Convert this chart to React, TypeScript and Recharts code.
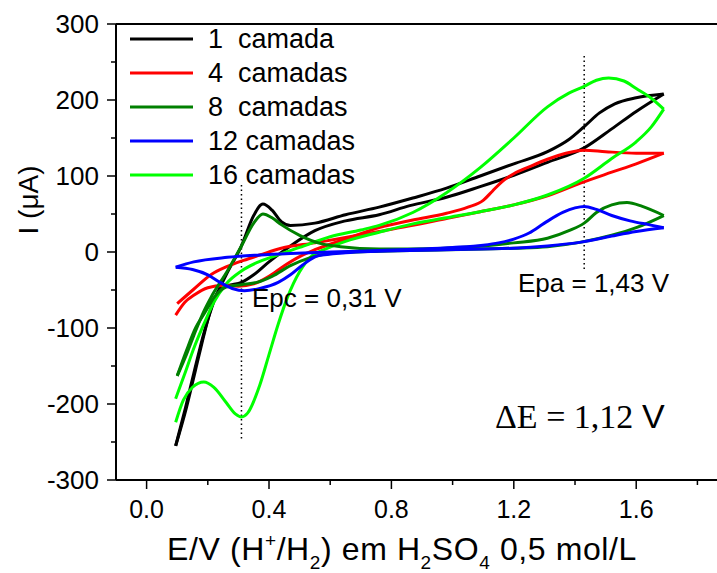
import { LineChart, Line, XAxis, YAxis, ReferenceLine } from "recharts";

// each voltammogram is stored as two branches (anodic = upper, cathodic = lower), E ascending
const c1UpE = [0.095, 0.127, 0.154, 0.187, 0.22, 0.26, 0.31, 0.35, 0.38, 0.41, 0.44, 0.47, 0.55, 0.65, 0.76, 0.87, 0.98, 1.09, 1.2, 1.31, 1.38, 1.43, 1.48, 1.53, 1.6, 1.69];
const c1UpI = [-255, -205, -160, -107, -65, -30, 8, 48, 63, 55, 40, 35, 38, 49, 59, 71, 84, 100, 116, 132, 148, 165, 183, 195, 203, 208];
const c1DownE = [0.095, 0.13, 0.16, 0.19, 0.21, 0.23, 0.26, 0.31, 0.35, 0.4, 0.47, 0.55, 0.65, 0.76, 0.86, 0.98, 1.09, 1.2, 1.31, 1.43, 1.52, 1.6, 1.69];
const c1DownI = [-255, -205, -155, -105, -75, -55, -45, -40, -30, -13, 8, 28, 41, 49, 61, 72, 86, 101, 118, 137, 162, 185, 208];

const c4UpE = [0.095, 0.125, 0.154, 0.2, 0.25, 0.3, 0.35, 0.4, 0.45, 0.5, 0.55, 0.65, 0.76, 0.87, 0.98, 1.05, 1.1, 1.13, 1.16, 1.2, 1.25, 1.31, 1.37, 1.43, 1.5, 1.6, 1.69];
const c4UpI = [-83, -66, -57, -47, -44, -45, -42, -32, -18, -6, 3, 17, 32, 42, 51, 59, 68, 80, 92, 103, 112, 122, 130, 134, 132, 130, 130];
const c4DownE = [0.1, 0.154, 0.21, 0.264, 0.317, 0.37, 0.44, 0.55, 0.65, 0.76, 0.87, 0.98, 1.09, 1.2, 1.31, 1.42, 1.52, 1.6, 1.69];
const c4DownI = [-68, -49, -30, -19, -11, -4, 5, 12, 19, 27, 35, 44, 53, 62, 74, 91, 105, 116, 130];

const c8UpE = [0.1, 0.13, 0.154, 0.187, 0.21, 0.264, 0.31, 0.35, 0.38, 0.41, 0.44, 0.5, 0.57, 0.634, 0.76, 0.86, 0.98, 1.1, 1.2, 1.31, 1.38, 1.43, 1.47, 1.52, 1.57, 1.62, 1.69];
const c8UpI = [-163, -135, -110, -78, -60, -25, 8, 38, 50, 45, 36, 22, 11, 7, 4, 4, 5, 8, 12, 18, 28, 38, 52, 62, 65, 60, 48];
const c8DownE = [0.1, 0.13, 0.16, 0.19, 0.22, 0.26, 0.31, 0.36, 0.41, 0.47, 0.53, 0.6, 0.76, 0.98, 1.2, 1.31, 1.42, 1.52, 1.6, 1.69];
const c8DownI = [-163, -130, -100, -80, -60, -46, -43, -40, -32, -18, -8, -2, 1, 3, 5, 7, 13, 22, 32, 48];

const c12UpE = [0.095, 0.154, 0.264, 0.37, 0.47, 0.6, 0.76, 0.9, 1.0, 1.1, 1.15, 1.2, 1.25, 1.3, 1.36, 1.4, 1.43, 1.47, 1.52, 1.58, 1.64, 1.69];
const c12UpI = [-20, -13, -7, -4, -2, 0, 2, 4, 6, 9, 12, 17, 25, 38, 52, 58, 60, 56, 48, 41, 36, 32];
const c12DownE = [0.095, 0.15, 0.2, 0.24, 0.28, 0.32, 0.37, 0.43, 0.47, 0.51, 0.56, 0.65, 0.76, 0.98, 1.2, 1.31, 1.42, 1.52, 1.6, 1.69];
const c12DownI = [-20, -23, -30, -40, -48, -51, -48, -40, -30, -17, -5, -1, 1, 3, 5, 8, 13, 21, 27, 32];

const c16UpE = [0.095, 0.125, 0.154, 0.187, 0.22, 0.26, 0.31, 0.36, 0.42, 0.5, 0.6, 0.7, 0.76, 0.87, 0.98, 1.09, 1.2, 1.31, 1.38, 1.43, 1.47, 1.51, 1.56, 1.6, 1.65, 1.69];
const c16UpI = [-193, -160, -127, -95, -66, -42, -25, -14, -5, 6, 20, 29, 35, 52, 78, 111, 150, 191, 209, 218, 226, 229, 225, 215, 202, 188];
const c16DownE = [0.095, 0.12, 0.15, 0.187, 0.22, 0.26, 0.29, 0.31, 0.33, 0.37, 0.4, 0.43, 0.46, 0.5, 0.54, 0.58, 0.65, 0.76, 0.87, 0.98, 1.09, 1.2, 1.31, 1.43, 1.52, 1.6, 1.65, 1.69];
const c16DownI = [-224, -195, -178, -171, -178, -198, -213, -217, -212, -175, -135, -95, -60, -26, -5, 3, 14, 26, 37, 45, 53, 62, 75, 97, 123, 145, 165, 188];

const seriesNames = ["1  camada", "4  camadas", "8  camadas", "12 camadas", "16 camadas"];
const seriesColors = ["#000000", "#ff0000", "#008000", "#0000ff", "#00ff00"];

const xTicks = [0, 0.2, 0.4, 0.6, 0.8, 1.0, 1.2, 1.4, 1.6, 1.8];
const yTicks = [-300, -250, -200, -150, -100, -50, 0, 50, 100, 150, 200, 250, 300];

const epc = 0.31;
const epa = 1.43;

const FONT = "'Liberation Sans', Arial, sans-serif";

const zip = (e: number[], i: number[]) => e.map((v, k) => ({ e: v, i: i[k] }));

const curves = [
  { up: zip(c1UpE, c1UpI), down: zip(c1DownE, c1DownI) },
  { up: zip(c4UpE, c4UpI), down: zip(c4DownE, c4DownI) },
  { up: zip(c8UpE, c8UpI), down: zip(c8DownE, c8DownI) },
  { up: zip(c12UpE, c12UpI), down: zip(c12DownE, c12DownI) },
  { up: zip(c16UpE, c16UpI), down: zip(c16DownE, c16DownI) },
];

// drawing order, blue on top
const drawOrder = [0, 1, 4, 2, 3];

function YTick({ x, y, payload }: any) {
  const major = payload.value % 100 === 0;
  return (
    <g>
      <line x1={x - (major ? 9 : 5)} x2={x} y1={y} y2={y} stroke="#000" strokeWidth={1.5} />
      {major && (
        <text x={x - 17} y={y} textAnchor="end" dominantBaseline="central" fontSize={26} fontFamily={FONT} fill="#000">
          {payload.value}
        </text>
      )}
    </g>
  );
}

function XTick({ x, y, payload }: any) {
  const major = Math.round(payload.value * 10) % 4 === 0;
  return (
    <g>
      <line x1={x} x2={x} y1={y} y2={y + (major ? 9 : 5)} stroke="#000" strokeWidth={1.5} />
      {major && (
        <text x={x} y={y + 29} textAnchor="middle" dominantBaseline="central" fontSize={25} fontFamily={FONT} fill="#000">
          {payload.value.toFixed(1)}
        </text>
      )}
    </g>
  );
}

export default function App() {
  return (
    <div style={{ position: "absolute", left: 0, top: 0, width: 717, height: 573, background: "#fff", overflow: "hidden" }}>
      <LineChart width={717} height={573} margin={{ top: 24, right: 0, bottom: 33, left: 0 }}>
        <XAxis
          type="number"
          dataKey="e"
          domain={[-0.1, 1.864]}
          ticks={xTicks}
          allowDataOverflow
          height={60}
          tickSize={0}
          tickMargin={0}
          tickLine={false}
          axisLine={{ stroke: "#000", strokeWidth: 2 }}
          tick={<XTick />}
        />
        <YAxis
          type="number"
          dataKey="i"
          domain={[-300, 300]}
          ticks={yTicks}
          allowDataOverflow
          width={116}
          tickSize={0}
          tickMargin={0}
          tickLine={false}
          axisLine={{ stroke: "#000", strokeWidth: 2 }}
          tick={<YTick />}
        />
        <ReferenceLine y={300} stroke="#000" strokeWidth={2} />
        <ReferenceLine
          segment={[{ x: epc, y: 88 }, { x: epc, y: -247 }]}
          stroke="#000"
          strokeWidth={1.5}
          strokeDasharray="1.5 3"
        />
        <ReferenceLine
          segment={[{ x: epa, y: 258 }, { x: epa, y: -26 }]}
          stroke="#000"
          strokeWidth={1.5}
          strokeDasharray="1.5 3"
        />
        {drawOrder.flatMap((k) => [
          <Line
            key={`up${k}`}
            data={curves[k].up}
            dataKey="i"
            type="monotone"
            stroke={seriesColors[k]}
            strokeWidth={3}
            dot={false}
            activeDot={false}
            isAnimationActive={false}
          />,
          <Line
            key={`down${k}`}
            data={curves[k].down}
            dataKey="i"
            type="monotone"
            stroke={seriesColors[k]}
            strokeWidth={3}
            dot={false}
            activeDot={false}
            isAnimationActive={false}
          />,
        ])}
      </LineChart>
      <svg width={717} height={573} style={{ position: "absolute", left: 0, top: 0, pointerEvents: "none" }}>
        <g fontFamily={FONT} fill="#000">
          {seriesNames.map((name, k) => (
            <g key={name}>
              <line x1={130} x2={193} y1={39 + 34 * k} y2={39 + 34 * k} stroke={seriesColors[k]} strokeWidth={3} />
              <text x={208} y={39 + 34 * k} dominantBaseline="central" fontSize={27} style={{ whiteSpace: "pre" }}>
                {name}
              </text>
            </g>
          ))}
          <text x={252} y={307} fontSize={26}>Epc = 0,31 V</text>
          <text x={518} y={292} fontSize={26}>Epa = 1,43 V</text>
          <text x={495} y={428} fontSize={34} fontFamily="'Liberation Serif', 'Times New Roman', serif">ΔE = 1,12</text>
          <text x={642} y={428} fontSize={34}>V</text>
          <text
            x={28}
            y={200}
            fontSize={28}
            textAnchor="middle"
            dominantBaseline="central"
            transform="rotate(-90 28 200)"
          >
            I (μA)
          </text>
          <text x={402} y={560} fontSize={32} letterSpacing={0.6} textAnchor="middle">
            <tspan>E/V (H</tspan>
            <tspan fontSize={19} dy={-13}>+</tspan>
            <tspan dy={13}>/H</tspan>
            <tspan fontSize={19} dy={9}>2</tspan>
            <tspan dy={-9}>) em H</tspan>
            <tspan fontSize={19} dy={9}>2</tspan>
            <tspan dy={-9}>SO</tspan>
            <tspan fontSize={19} dy={9}>4</tspan>
            <tspan dy={-9}> 0,5 mol/L</tspan>
          </text>
        </g>
      </svg>
    </div>
  );
}
